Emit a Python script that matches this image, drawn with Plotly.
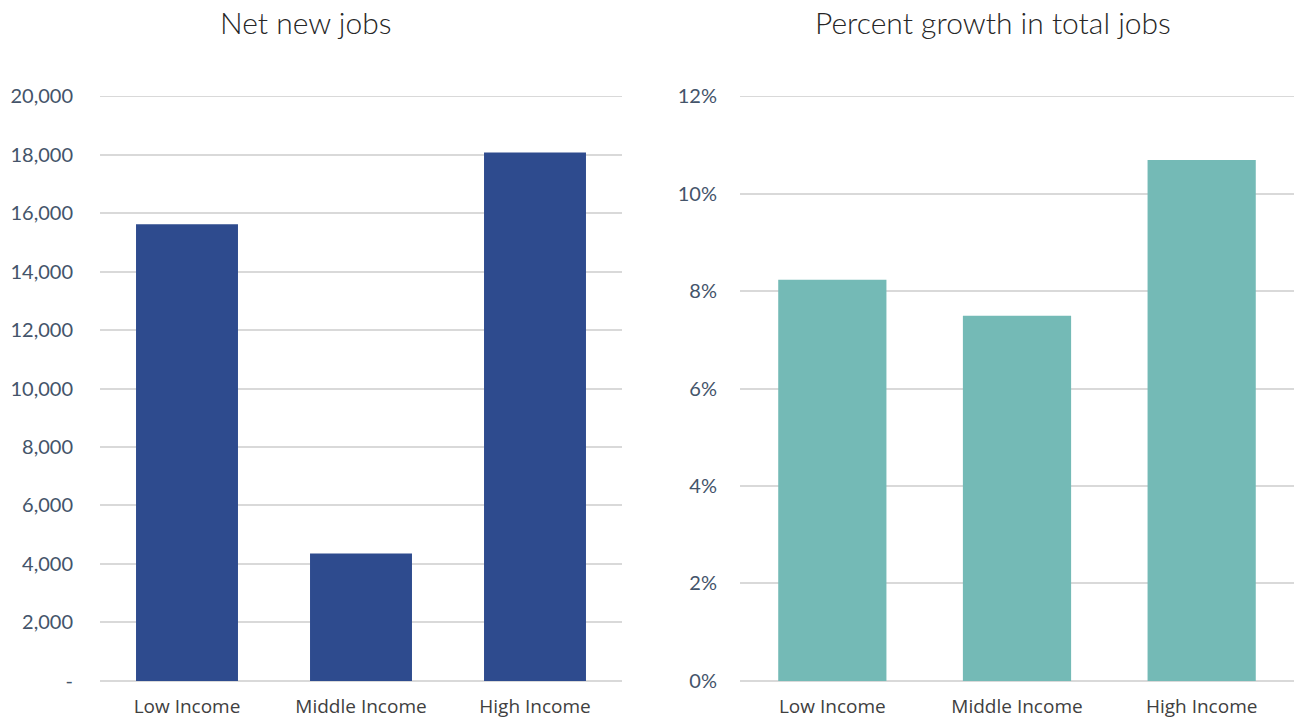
import plotly.graph_objects as go

# Job growth by neighborhood income group
categories = ["Low Income", "Middle Income", "High Income"]
net_new_jobs = [15620, 4360, 18070]
pct_growth = [8.23, 7.49, 10.69]

jobs_ticks = [0, 2000, 4000, 6000, 8000, 10000, 12000, 14000, 16000, 18000, 20000]
jobs_ticktext = ["-", "2,000", "4,000", "6,000", "8,000", "10,000", "12,000",
                 "14,000", "16,000", "18,000", "20,000"]
pct_ticks = [0, 2, 4, 6, 8, 10, 12]
pct_ticktext = ["0%", "2%", "4%", "6%", "8%", "10%", "12%"]

BLUE = "#2e4b8e"
TEAL = "#74bab6"
GRID = "#d9d9d9"
YTICK_COLOR = "#44546a"
XTICK_COLOR = "#404040"

fig = go.Figure()
fig.add_trace(go.Bar(x=categories, y=net_new_jobs, marker=dict(color=BLUE, line=dict(width=0)),
                     xaxis="x", yaxis="y", showlegend=False))
fig.add_trace(go.Bar(x=categories, y=pct_growth, marker=dict(color=TEAL, line=dict(width=0)),
                     xaxis="x2", yaxis="y2", showlegend=False))

ydom = [40 / 721, 625 / 721]
xaxis_common = dict(showgrid=False, zeroline=False, showline=False, ticks="",
                    automargin=False,
                    tickfont=dict(family="Open Sans", size=19, color=XTICK_COLOR),
                    ticklabelstandoff=12)
yaxis_common = dict(showgrid=True, gridcolor=GRID, gridwidth=2,
                    zeroline=True, zerolinecolor=GRID, zerolinewidth=2,
                    showline=False, ticks="", automargin=False,
                    tickfont=dict(family="Lato", size=20, color=YTICK_COLOR))

# Gridlines at the top of each value axis (plotly skips grid at the range edge)
edge_lines = [
    dict(type="line", xref="x domain", yref="y", x0=0, x1=1,
         y0=jobs_ticks[-1], y1=jobs_ticks[-1], line=dict(color=GRID, width=2), layer="below"),
    dict(type="line", xref="x2 domain", yref="y2", x0=0, x1=1,
         y0=pct_ticks[-1], y1=pct_ticks[-1], line=dict(color=GRID, width=2), layer="below"),
]

fig.update_layout(
    width=1294, height=721,
    margin=dict(l=0, r=0, t=0, b=0, autoexpand=False),
    paper_bgcolor="white", plot_bgcolor="white",
    bargap=0.414,
    xaxis=dict(domain=[100 / 1294, 622 / 1294], anchor="y", **xaxis_common),
    yaxis=dict(domain=ydom, anchor="x", range=[-1, 20001], tickvals=jobs_ticks,
               ticktext=jobs_ticktext, ticklabelstandoff=26, **yaxis_common),
    xaxis2=dict(domain=[740 / 1294, 1.0], anchor="y2", **xaxis_common),
    yaxis2=dict(domain=ydom, anchor="x2", range=[-0.0006, 12.0006], tickvals=pct_ticks,
                ticktext=pct_ticktext, ticklabelstandoff=22, **yaxis_common),
    shapes=edge_lines,
    annotations=[
        dict(text="Net new jobs", x=305 / 1294, y=1 - 22 / 721, xref="paper", yref="paper",
             xanchor="center", yanchor="middle", showarrow=False,
             font=dict(family="Lato", size=30, color="#262626", weight=300)),
        dict(text="Percent growth in total jobs", x=993 / 1294, y=1 - 22 / 721,
             xref="paper", yref="paper", xanchor="center", yanchor="middle",
             showarrow=False,
             font=dict(family="Lato", size=30, color="#262626", weight=300)),
    ],
)

fig.write_html("out.html")
